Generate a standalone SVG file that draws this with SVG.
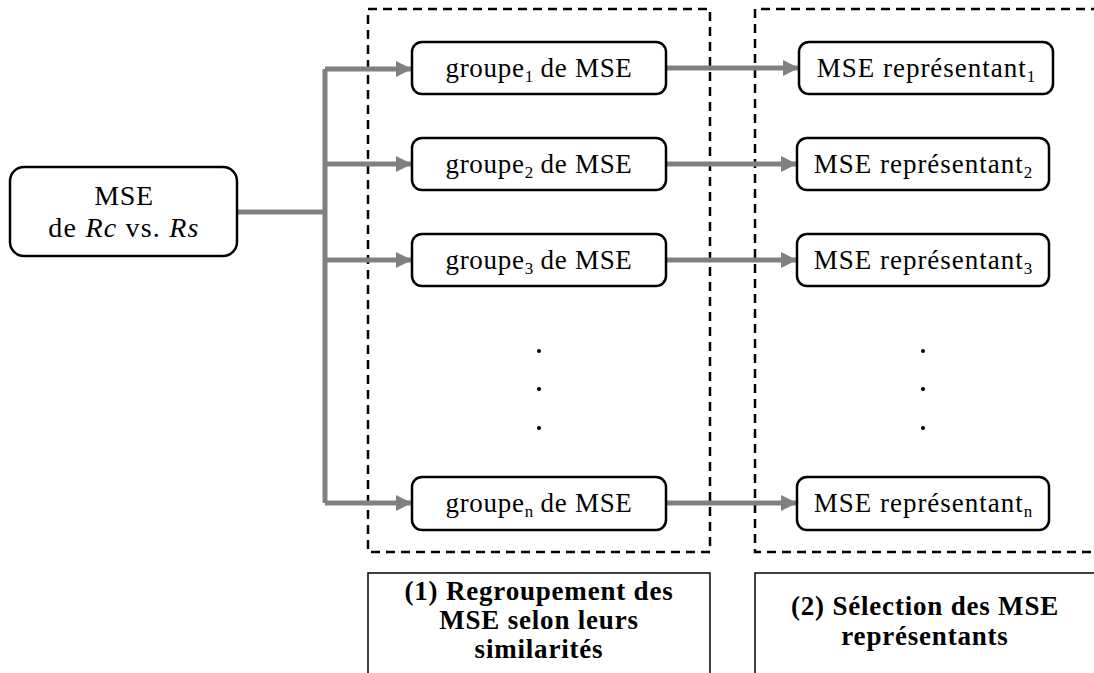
<svg xmlns="http://www.w3.org/2000/svg" width="1094" height="673" viewBox="0 0 1094 673">
<defs>
<style>
.node{fill:#fff;stroke:#000;stroke-width:2.5}
.dash{fill:none;stroke:#000;stroke-width:2.5;stroke-dasharray:9 6}
.lbl{fill:none;stroke:#000;stroke-width:1.5}
.t{font-size:27px;letter-spacing:0.7px;fill:#000;text-anchor:middle}
.b{font-size:27px;letter-spacing:0.8px;font-weight:bold;fill:#000;text-anchor:middle}
.sub{font-size:17px;letter-spacing:0}
.c{fill:none;stroke:#808080;stroke-width:5}
.dot{fill:#000}
</style>
<marker id="ah" markerWidth="16" markerHeight="16" viewBox="0 0 16 16" refX="16" refY="8" orient="auto" markerUnits="userSpaceOnUse">
<path d="M0,0 L16,8 L0,16 Z" fill="#808080"/>
</marker>
</defs>
<rect width="1094" height="673" fill="#fff"/>
<g id="frames">
<rect class="dash" x="368" y="9" width="342" height="543"/>
<path class="dash" d="M1100,9 H755 V552 H1100"/>
</g>
<g id="connectors">
<path class="c" d="M237,212 H325"/>
<path class="c" d="M325,69 V503"/>
<path class="c" d="M325,69 H412" marker-end="url(#ah)"/>
<path class="c" d="M325,164 H412" marker-end="url(#ah)"/>
<path class="c" d="M325,260 H412" marker-end="url(#ah)"/>
<path class="c" d="M325,503 H412" marker-end="url(#ah)"/>
<path class="c" d="M667,68 H799" marker-end="url(#ah)"/>
<path class="c" d="M667,164 H797" marker-end="url(#ah)"/>
<path class="c" d="M667,260 H797" marker-end="url(#ah)"/>
<path class="c" d="M667,503 H797" marker-end="url(#ah)"/>
</g>
<g font-family="Liberation Serif, Times New Roman, DejaVu Serif, serif">
<g id="src">
<rect class="node" x="10" y="167" width="227" height="89" rx="14"/>
<text class="t" x="124" y="205" style="font-size:28px">MSE</text>
<text class="t" x="124" y="237" style="font-size:28px;letter-spacing:1.2px">de <tspan font-style="italic">Rc</tspan> vs. <tspan font-style="italic">Rs</tspan></text>
</g>
<g id="g1"><rect class="node" x="412" y="42" width="254" height="52" rx="10"/><text class="t" x="539" y="77">groupe<tspan class="sub" dy="5">1</tspan><tspan dy="-5"> de MSE</tspan></text></g>
<g id="g2"><rect class="node" x="412" y="138" width="254" height="52" rx="10"/><text class="t" x="539" y="173">groupe<tspan class="sub" dy="5">2</tspan><tspan dy="-5"> de MSE</tspan></text></g>
<g id="g3"><rect class="node" x="412" y="234" width="254" height="52" rx="10"/><text class="t" x="539" y="269">groupe<tspan class="sub" dy="5">3</tspan><tspan dy="-5"> de MSE</tspan></text></g>
<g id="gn"><rect class="node" x="412" y="477" width="254" height="53" rx="10"/><text class="t" x="539" y="512">groupe<tspan class="sub" dy="5">n</tspan><tspan dy="-5"> de MSE</tspan></text></g>
<g id="r1"><rect class="node" x="799" y="42" width="254" height="52" rx="10"/><text class="t" x="926" y="77" style="letter-spacing:1px">MSE représentant<tspan class="sub" dy="5">1</tspan></text></g>
<g id="r2"><rect class="node" x="797" y="138" width="252" height="52" rx="10"/><text class="t" x="923" y="173" style="letter-spacing:1px">MSE représentant<tspan class="sub" dy="5">2</tspan></text></g>
<g id="r3"><rect class="node" x="797" y="234" width="252" height="52" rx="10"/><text class="t" x="923" y="269" style="letter-spacing:1px">MSE représentant<tspan class="sub" dy="5">3</tspan></text></g>
<g id="rn"><rect class="node" x="797" y="477" width="252" height="53" rx="10"/><text class="t" x="923" y="512" style="letter-spacing:1px">MSE représentant<tspan class="sub" dy="5">n</tspan></text></g>
<g id="dots">
<circle class="dot" cx="539" cy="351" r="2"/><circle class="dot" cx="539" cy="389" r="2"/><circle class="dot" cx="539" cy="428" r="2"/>
<circle class="dot" cx="923" cy="351" r="2"/><circle class="dot" cx="923" cy="389" r="2"/><circle class="dot" cx="923" cy="428" r="2"/>
</g>
<g id="label1">
<rect class="lbl" x="368" y="573" width="342" height="110"/>
<text class="b" x="539" y="600">(1) Regroupement des</text>
<text class="b" x="539" y="629">MSE selon leurs</text>
<text class="b" x="539" y="658">similarités</text>
</g>
<g id="label2">
<path class="lbl" d="M1100,573 H755 V680"/>
<text class="b" x="925" y="615">(2) Sélection des MSE</text>
<text class="b" x="925" y="645">représentants</text>
</g>
</g>
</svg>
